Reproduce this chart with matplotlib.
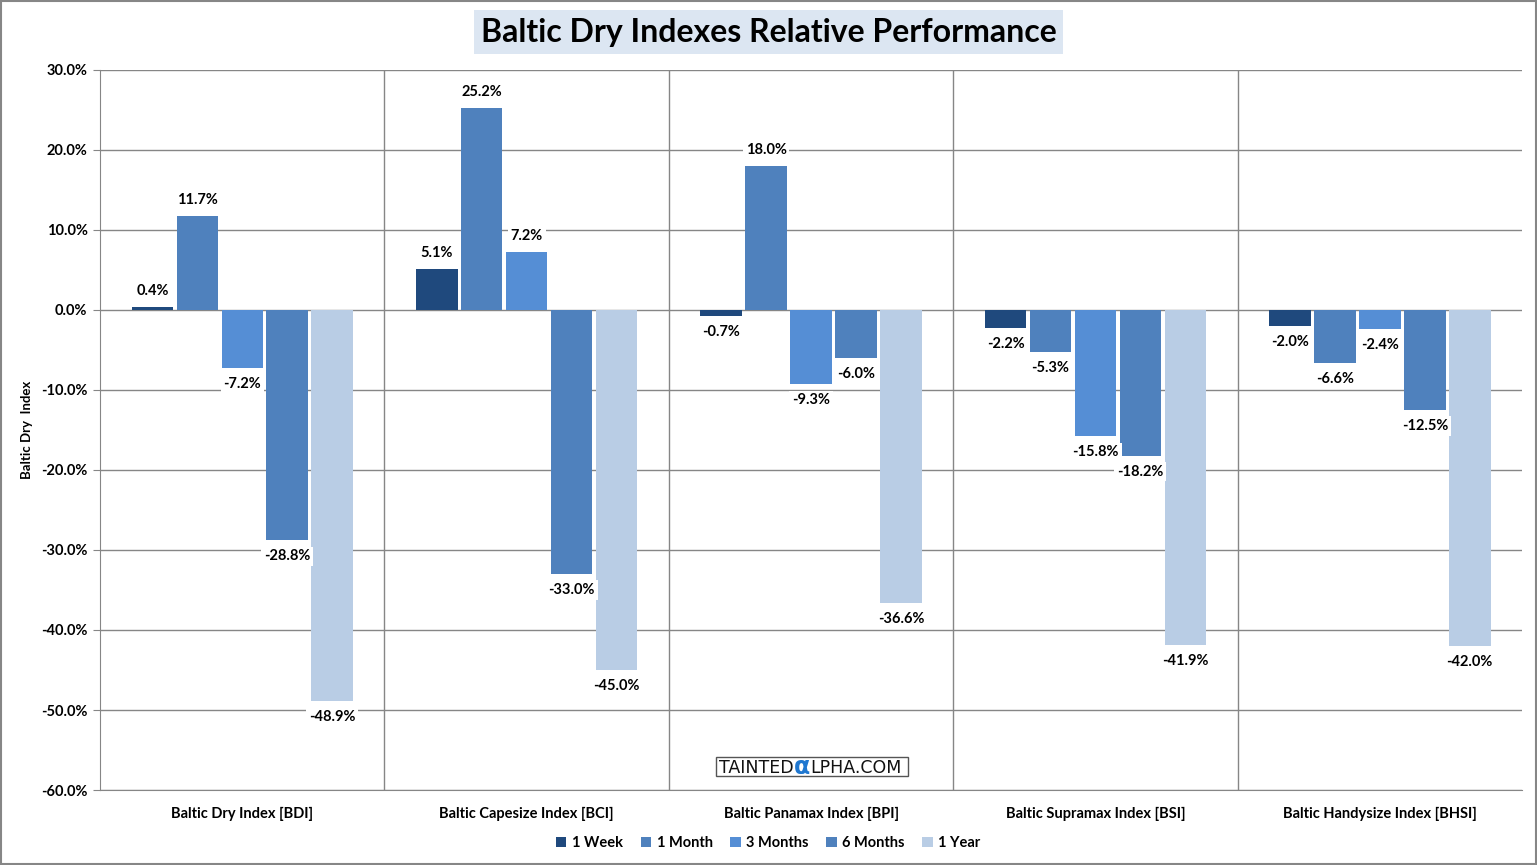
import numpy as np
import matplotlib.pyplot as plt
from matplotlib.ticker import FuncFormatter

# index names and periods
categories = ['Baltic Dry Index [BDI]', 'Baltic Capesize Index [BCI]', 'Baltic Panamax Index [BPI]',
              'Baltic Supramax Index [BSI]', 'Baltic Handysize Index [BHSI]']
periods = ['1 Week', '1 Month', '3 Months', '6 Months', '1 Year']

# % change per period, one list per period
week_1 = [0.4, 5.1, -0.7, -2.2, -2.0]
month_1 = [11.7, 25.2, 18.0, -5.3, -6.6]
months_3 = [-7.2, 7.2, -9.3, -15.8, -2.4]
months_6 = [-28.8, -33.0, -6.0, -18.2, -12.5]
year_1 = [-48.9, -45.0, -36.6, -41.9, -42.0]

series = [week_1, month_1, months_3, months_6, year_1]
colors = ['#1F497D', '#4F81BD', '#558ED5', '#4F81BD', '#B9CDE5']

plt.rcParams['font.family'] = ['Lato', 'DejaVu Sans']
plt.rcParams['font.weight'] = 'bold'

fig = plt.figure(figsize=(15.37, 8.65), dpi=100)
ax = fig.add_axes([0.0651, 0.0867, 0.9252, 0.8324])

x = np.arange(len(categories))
step = 0.158
width = 0.146
for k, (vals, c, name) in enumerate(zip(series, colors, periods)):
    pos = x + (k - 2) * step
    ax.bar(pos, vals, width, color=c, label=name, zorder=3)
    for p, v in zip(pos, vals):
        off = 2.0 if v >= 0 else -2.0
        ax.text(p, v + off, f'{v:.1f}%', ha='center', va='center', fontsize=10.5,
                fontweight='bold', zorder=5,
                bbox=dict(facecolor='white', edgecolor='none', pad=2))

ax.set_xlim(-0.5, 4.5)
ax.set_ylim(-60, 30)
ax.set_yticks(np.arange(-60, 31, 10))
ax.yaxis.set_major_formatter(FuncFormatter(lambda v, _: f'{v:.1f}%'))
ax.set_xticks(x)
ax.set_xticklabels(categories, fontsize=10.5, fontweight='bold')
ax.tick_params(axis='x', length=0, pad=12)
ax.tick_params(axis='y', length=5, color='#868686', labelsize=10.5, pad=4)

# gridlines and category separators
ax.grid(axis='y', color='#868686', linewidth=1, zorder=0)
for b in np.arange(0.5, 4.5, 1):
    ax.axvline(b, color='#868686', linewidth=1, zorder=0)
for s in ['top', 'right']:
    ax.spines[s].set_visible(False)
for s in ['left', 'bottom']:
    ax.spines[s].set_color('#868686')

ax.set_ylabel('Baltic Dry  Index', fontsize=9.5, fontweight='bold', labelpad=6)

fig.text(0.5, 0.963, 'Baltic Dry Indexes Relative Performance', ha='center', va='center',
         fontsize=23, fontweight='bold',
         bbox=dict(facecolor='#DCE6F2', edgecolor='none', pad=5))

fig.legend(loc='center', bbox_to_anchor=(0.5, 0.025), ncol=5, frameon=False,
           fontsize=10.5, handlelength=0.7, handleheight=0.7, handletextpad=0.4,
           columnspacing=1.2)

# watermark: box with three text pieces, alpha in blue
wx, wy = 716 / 1537, 1 - 768 / 865
box = plt.Rectangle((wx, 1 - 776 / 865), 192 / 1537, 19 / 865, transform=fig.transFigure,
                    facecolor='white', edgecolor='#555555', linewidth=1, zorder=6)
fig.patches.append(box)
t1 = fig.text(wx + 3 / 1537, wy, 'TAINTED', ha='left', va='center', fontsize=12.5,
              family='DejaVu Sans', fontweight='normal', color='#111111', zorder=7)
fig.canvas.draw()
e1 = t1.get_window_extent()
t2 = fig.text(e1.x1 / 1537, wy + 1 / 865, '\u03b1', ha='left', va='center', fontsize=17,
              family='DejaVu Sans', fontweight='bold', color='#1F77D0', zorder=7)
fig.canvas.draw()
e2 = t2.get_window_extent()
fig.text(e2.x1 / 1537, wy, 'LPHA.COM', ha='left', va='center', fontsize=12.5,
         family='DejaVu Sans', fontweight='normal', color='#111111', zorder=7)

# frame around the whole figure
fig.patches.append(plt.Rectangle((0.0005, 0.001), 0.999, 0.998, transform=fig.transFigure,
                                 fill=False, edgecolor='#868686', linewidth=1.5))

fig.savefig('out.png', dpi=100)
